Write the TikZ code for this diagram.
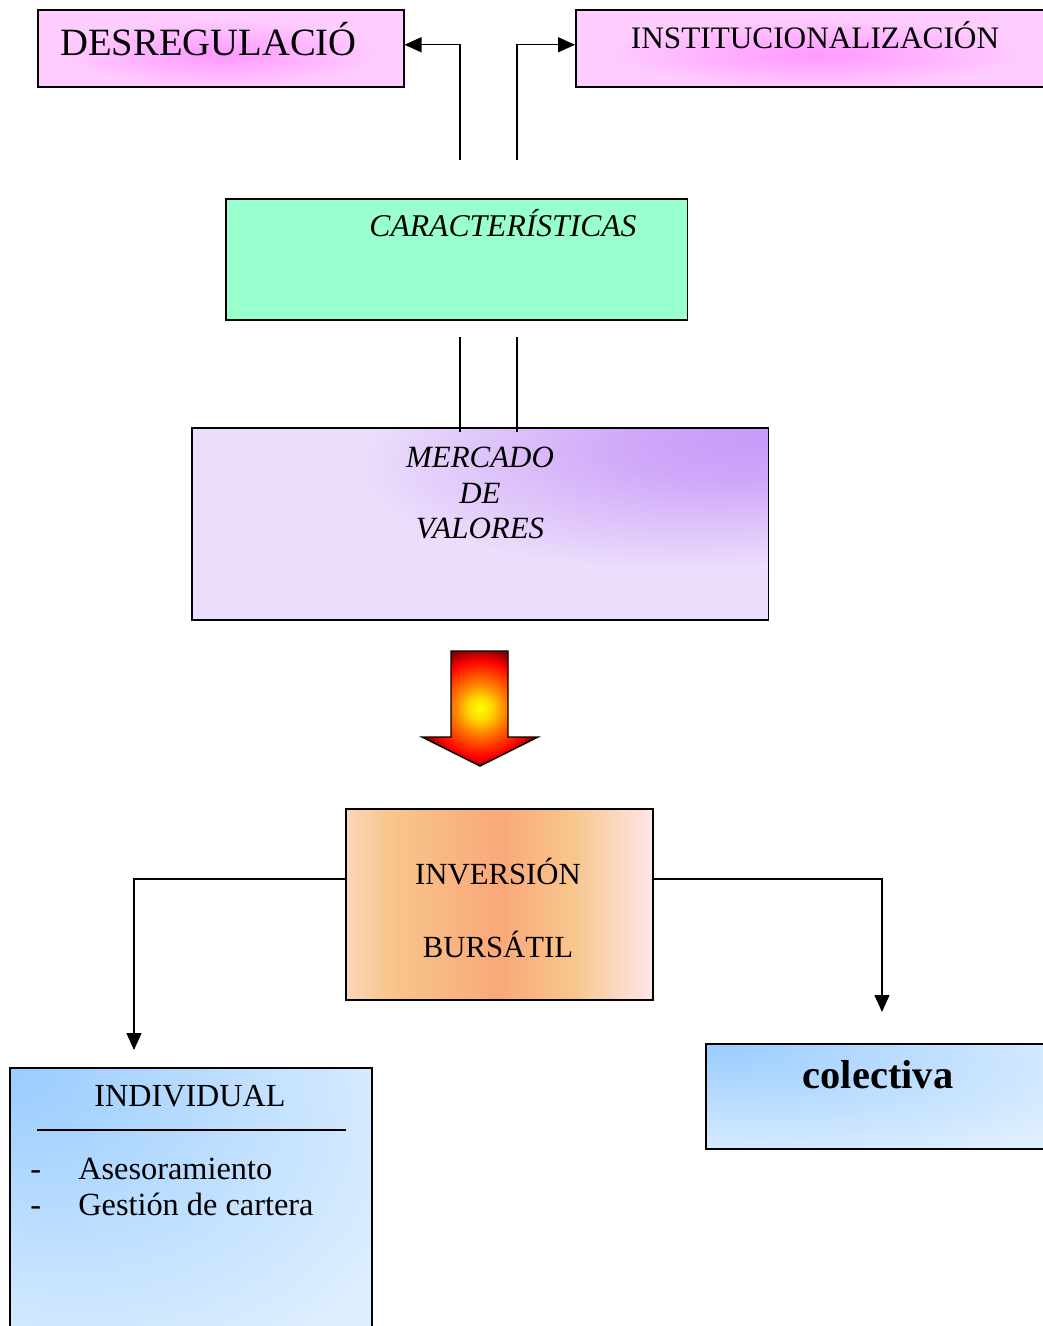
\documentclass[tikz,border=0pt]{standalone}
\usepackage{fontspec}
\setmainfont{Liberation Serif}
\usetikzlibrary{positioning,arrows.meta,calc}

\definecolor{rosaclaro}{HTML}{FFCCFF}
\definecolor{rosafuerte}{HTML}{FF99FF}
\definecolor{verdeagua}{HTML}{99FFCC}
\definecolor{lilaclaro}{HTML}{EBDDFB}
\definecolor{lilaoscuro}{HTML}{C899F9}
\definecolor{azulfuerte}{HTML}{99CCFF}
\definecolor{azulclaro}{HTML}{DDEEFF}
\definecolor{melocoton}{HTML}{F8C68C}
\definecolor{naranja}{HTML}{F9A87A}
\definecolor{rosapalido}{HTML}{FDE6EA}

% sombreados de las cajas
\pgfdeclareradialshading{brillorosa}{\pgfpoint{0bp}{-5bp}}{color(0bp)=(rosafuerte); color(6bp)=(rosafuerte!75!rosaclaro); color(22bp)=(rosaclaro); color(60bp)=(rosaclaro)}
\pgfdeclareradialshading{brillolila}{\pgfpoint{25bp}{23bp}}{color(0bp)=(lilaoscuro); color(9bp)=(lilaoscuro!80!lilaclaro); color(27bp)=(lilaclaro); color(80bp)=(lilaclaro)}
\pgfdeclareradialshading{brilloazul}{\pgfpoint{-25bp}{25bp}}{color(0bp)=(azulfuerte); color(20bp)=(azulfuerte!55!azulclaro); color(45bp)=(azulclaro); color(90bp)=(azulclaro)}
\pgfdeclarehorizontalshading{bursatil}{100bp}{color(0bp)=(melocoton!60!rosapalido); color(25bp)=(melocoton!50!rosapalido); color(32bp)=(melocoton); color(50bp)=(naranja); color(62bp)=(melocoton); color(75bp)=(rosapalido); color(100bp)=(rosapalido)}
\pgfdeclareradialshading{fuego}{\pgfpointorigin}{color(0bp)=(yellow); color(5bp)=(yellow!70!orange); color(11bp)=(orange); color(17bp)=(orange!40!red); color(21bp)=(red); color(26bp)=(red!55!black); color(50bp)=(red!55!black)}

\begin{document}
\begin{tikzpicture}[
    x=0.02cm, y=-0.02cm,
    caja/.style={draw, line width=0.9pt, inner sep=0pt, anchor=north west},
    texto/.style={inner sep=0pt, anchor=base},
    flecha/.style={-{Triangle[length=0.34cm,width=0.3cm]}, line width=0.8pt},
    linea/.style={line width=0.8pt},
]
\fill[white] (0,0) rectangle (1043,1326);
\clip (0,0) rectangle (1043,1326);

% Cajas superiores
\node[caja, shade, shading=brillorosa, minimum width=7.32cm, minimum height=1.54cm] (desreg) at (37,9) {};
\node[caja, shade, shading=brillorosa, minimum width=9.6cm, minimum height=1.54cm] (instit) at (575,9) {};
\node[texto, anchor=base west, font=\fontsize{22}{26}\selectfont] (tdesreg) at (60,55) {DESREGULACIÓ};
\node[texto, font=\fontsize{17.8}{21}\selectfont] (tinstit) at (815,48) {INSTITUCIONALIZACIÓN};

\node[caja, fill=verdeagua, minimum width=9.24cm, minimum height=2.42cm] (caract) at (225,198) {};
\node[texto, font=\itshape\fontsize{18}{21}\selectfont] (tcaract) at (503,236) {CARACTERÍSTICAS};

\node[caja, shade, shading=brillolila, minimum width=11.54cm, minimum height=3.84cm] (mercado) at (191,427) {};
\node[inner sep=0pt, anchor=north, align=center, font=\itshape\fontsize{17.6}{20.1}\selectfont] (tmercado) at (480,447) {MERCADO\\DE\\VALORES};

% Conectores de arriba
\coordinate (pieizq) at (460,160);
\coordinate (pieder) at (517,160);
\draw[flecha] (pieizq) |- ([yshift=2pt]desreg.east);
\draw[flecha] (pieder) |- ([yshift=2pt]instit.west);

\coordinate (altoizq) at (460,337);
\coordinate (altoder) at (517,337);
\draw[linea] (altoizq) -- ([yshift=-3pt]altoizq |- mercado.north);
\draw[linea] (altoder) -- ([yshift=-3pt]altoder |- mercado.north);

% Flecha gruesa
\shade[shading=fuego, draw=black, line width=0.8pt]
  (451,651) -- (508,651) -- (508,737) -- (538,737) -- (480,766)
  -- (422,737) -- (451,737) -- cycle;

% Inversion bursatil
\node[caja, shade, shading=bursatil, minimum width=6.14cm, minimum height=3.82cm] (inversion) at (345,808) {};
\node[texto, font=\fontsize{17.5}{21}\selectfont] (tinversion) at (498,884) {INVERSIÓN};
\node[texto, font=\fontsize{17.5}{21}\selectfont] (tbursatil) at (498,957) {BURSÁTIL};

\coordinate (ramal) at (498,879);
\coordinate (puntaizq) at (134,1050);
\coordinate (puntader) at (882,1012);
\draw[flecha] (inversion.west |- ramal) -| (puntaizq);
\draw[flecha] (inversion.east |- ramal) -| (puntader);

% Cajas de abajo
\node[caja, shade, shading=brilloazul, minimum width=7.24cm, minimum height=5.46cm] (individual) at (9,1067) {};
\node[texto, font=\fontsize{18.3}{22}\selectfont] (tindividual) at (190,1106) {INDIVIDUAL};
\draw[linea] (37,1130) -- (346,1130);
\node[texto, anchor=base west, font=\fontsize{18.4}{22}\selectfont] (item1) at (30,1179) {\makebox[0.96cm][l]{-}Asesoramiento};
\node[texto, anchor=base west, font=\fontsize{18.4}{22}\selectfont] (item2) at (30,1215) {\makebox[0.96cm][l]{-}Gestión de cartera};

\node[caja, shade, shading=brilloazul, minimum width=7.1cm, minimum height=2.1cm] (colectiva) at (705,1043) {};
\node[texto, font=\bfseries\fontsize{23}{27}\selectfont] (tcolec) at (878,1088) {colectiva};

\end{tikzpicture}
\end{document}
